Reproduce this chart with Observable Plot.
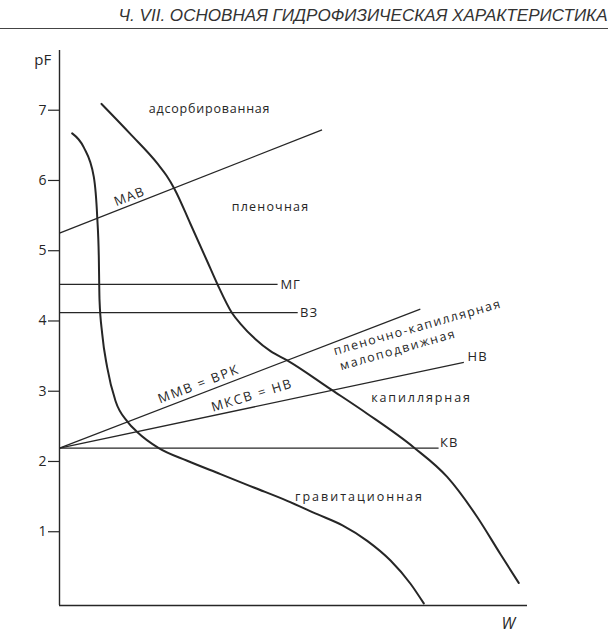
<!DOCTYPE html>
<html><head><meta charset="utf-8">
<script src="https://cdn.jsdelivr.net/npm/d3@7"></script>
<script src="https://cdn.jsdelivr.net/npm/@observablehq/plot@0.6"></script>
<style>
html,body{margin:0;padding:0;background:#fff;}
#header{position:relative;width:608px;height:40px;overflow:hidden;}
#htext{position:absolute;right:0;top:8px;font:italic 16px/16px "Liberation Sans",sans-serif;color:#333;white-space:nowrap;transform-origin:right center;}
#header .rule{position:absolute;left:0;width:608px;top:28px;height:1.3px;background:#444;}
</style></head><body>
<div id="header"><span id="htext">Ч. VII. ОСНОВНАЯ ГИДРОФИЗИЧЕСКАЯ ХАРАКТЕРИСТИКА</span><div class="rule"></div></div>
<div id="chart"></div>
<script>
// ---- data (W in arbitrary units 0..100, pF) ----
const pfTicks = [1, 2, 3, 4, 5, 6, 7];

// curve 1 (left)
const curve1W  = [2.71, 5.19, 7.33, 8.06, 8.40, 8.55, 9.12, 10.19, 11.97, 14.59, 16.60, 21.22, 27.29, 34.40, 41.52, 48.65, 55.06, 60.47, 65.75, 70.73, 75.00, 77.84];
const curve1PF = [6.67, 6.47, 6.05, 5.48, 4.91, 4.30, 3.82, 3.34, 2.86, 2.56, 2.42, 2.19, 2.01, 1.82, 1.63, 1.44, 1.25, 1.09, 0.87, 0.59, 0.26, -0.02];

// curve 2 (right)
const curve2W  = [8.97, 15.17, 20.94, 22.86, 24.57, 27.99, 31.56, 33.70, 36.90, 38.68, 41.88, 45.09, 48.65, 57.91, 65.75, 75.71, 82.84, 89.25, 94.23, 98.14];
const curve2PF = [7.09, 6.66, 6.24, 6.07, 5.88, 5.38, 4.85, 4.53, 4.11, 3.96, 3.74, 3.57, 3.44, 3.03, 2.68, 2.20, 1.78, 1.21, 0.68, 0.27];

// straight reference lines
const refNames = ["МАВ", "ММВ = ВРК", "МКСВ = НВ", "МГ", "ВЗ", "КВ"];
const refW1  = [0, 0, 0, 0, 0, 0];
const refPF1 = [5.25, 2.19, 2.19, 4.52, 4.12, 2.19];
const refW2  = [56.1, 77.1, 86.4, 46.6, 50.9, 81.0];
const refPF2 = [6.72, 4.17, 3.41, 4.52, 4.12, 2.19];

// line-end labels
const endLabels  = ["МГ", "ВЗ", "КВ", "НВ"];
const endLabelW  = [47.2, 51.4, 81.3, 87.2];
const endLabelPF = [4.52, 4.12, 2.26, 3.49];

// region labels
const regionLabels = ["адсорбированная", "пленочная", "капиллярная", "гравитационная"];
const regionW  = [32.05, 45.09, 77.35, 64.10];
const regionPF = [7.02, 5.62, 2.91, 1.49];

// labels along sloped lines
const slopeLabels  = ["МАВ", "ММВ = ВРК", "МКСВ = НВ", "пленочно-капиллярная", "малоподвижная"];
const slopeLabelW  = [14.96, 29.77, 41.17, 76.5, 72.33];
const slopeLabelPF = [5.77, 3.10, 2.94, 3.91, 3.59];

// ---- styling lookups ----
const angleOf = {"МАВ": -21.5, "ММВ = ВРК": -21, "МКСВ = НВ": -17, "пленочно-капиллярная": -16, "малоподвижная": -16};
const spacingOf = {
  "адсорбированная": 0.8, "пленочная": 1.2, "капиллярная": 1.9, "гравитационная": 2.0,
  "МАВ": 1.2, "ММВ = ВРК": 1.8, "МКСВ = НВ": 1.8, "пленочно-капиллярная": 1.5, "малоподвижная": 1.6,
  "МГ": 1.0, "ВЗ": 1.0, "КВ": 1.0, "НВ": 1.0
};
const css = [];
const classOf = {};
Object.keys(spacingOf).forEach((k, i) => {
  classOf[k] = "lbl" + i;
  css.push(`#chart svg .lbl${i}, #chart svg .lbl${i} text{letter-spacing:${spacingOf[k]}px;}`);
});
const st = document.createElement("style");
st.textContent = css.join("\n");
document.head.appendChild(st);

// ---- build tables ----
const curves = [
  ...curve1W.map((w, i) => ({curve: "1", w, pf: curve1PF[i]})),
  ...curve2W.map((w, i) => ({curve: "2", w, pf: curve2PF[i]}))
];
const refLines = refNames.map((name, i) => ({name, w1: refW1[i], pf1: refPF1[i], w2: refW2[i], pf2: refPF2[i]}));
const ends = endLabels.map((t, i) => ({t, w: endLabelW[i], pf: endLabelPF[i]}));
const regions = regionLabels.map((t, i) => ({t, w: regionW[i], pf: regionPF[i]}));
const slopes = slopeLabels.map((t, i) => ({t, w: slopeLabelW[i], pf: slopeLabelPF[i]}));

const ink = "#262626";
const yMin = -0.05, yMax = 7.85;

const labelMark = (d, opts) => Plot.text([d], {x: "w", y: "pf", text: "t", fill: ink, className: classOf[d.t], ...opts});

const chart = Plot.plot({
  width: 608,
  height: 594,
  marginLeft: 59,
  marginRight: 81,
  marginTop: 10,
  marginBottom: 29,
  x: {domain: [0, 100], axis: null},
  y: {domain: [yMin, yMax], axis: null},
  style: {fontFamily: "'Open Sans', 'Noto Sans', sans-serif", color: ink, background: "#fff", overflow: "visible"},
  marks: [
    Plot.ruleX([0], {stroke: ink, strokeWidth: 1.4}),
    Plot.ruleY([yMin], {stroke: ink, strokeWidth: 1.4}),
    Plot.axisY({ticks: pfTicks, tickSize: 11, tickPadding: 2, fontSize: 14, label: null, tickFormat: d => String(d), stroke: ink, strokeWidth: 1.2}),
    Plot.link(refLines, {x1: "w1", y1: "pf1", x2: "w2", y2: "pf2", stroke: ink, strokeWidth: 1.3}),
    Plot.line(curves, {x: "w", y: "pf", z: "curve", curve: "monotone-x", stroke: ink, strokeWidth: 2}),
    ...ends.map(d => labelMark(d, {textAnchor: "start", fontSize: 13})),
    ...regions.map(d => labelMark(d, {textAnchor: "middle", fontSize: 12.5})),
    ...slopes.map(d => labelMark(d, {textAnchor: "middle", rotate: angleOf[d.t], fontSize: d.t === d.t.toUpperCase() ? 13 : 12.5})),
    Plot.text(["pF"], {x: [-3.6], y: [7.71], text: d => d, fontSize: 15, fill: ink}),
    Plot.text(["W"], {x: [95.9], y: [-0.31], text: d => d, fontSize: 16, fontStyle: "italic", fill: ink})
  ]
});
document.getElementById("chart").appendChild(chart);

// fit the running header to the page width
const h = document.getElementById("htext");
const wh = h.getBoundingClientRect().width;
h.style.transform = `scaleX(${489 / wh})`;
</script>
</body></html>
